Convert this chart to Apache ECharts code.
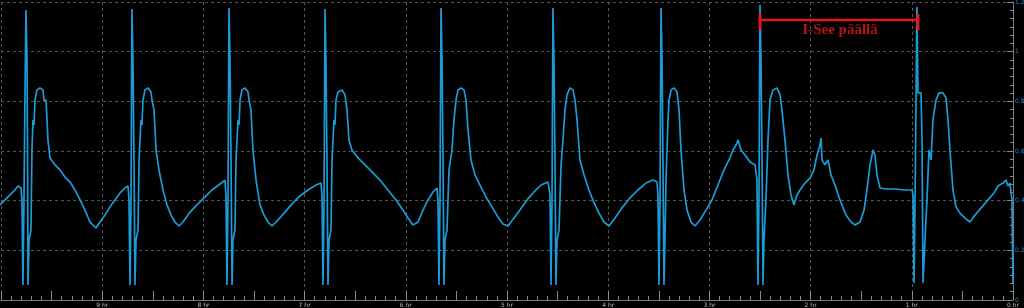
<!DOCTYPE html>
<html>
<head>
<meta charset="utf-8">
<script src="https://cdn.jsdelivr.net/npm/echarts@6/dist/echarts.min.js"></script>
<style>
html,body{margin:0;padding:0;background:#000;}
#chart{width:1024px;height:308px;}
</style>
</head>
<body>
<div id="chart"></div>
<script>
// Time (hr, counted down to 0 at the right edge) and signal value
const timeHr = [
10.010,9.961,9.911,9.862,9.832,9.802,
9.793,9.783,9.773,9.763,9.753,9.743,9.738,9.733,9.723,9.704,9.694,9.684,9.674,9.664,9.644,9.615,9.585,9.575,9.555,9.536,9.516,9.466,9.417,9.368,9.318,9.269,9.219,9.170,9.121,9.091,9.061,9.022,8.972,8.923,8.874,8.824,8.775,8.745,
8.735,8.725,8.715,8.706,8.696,8.686,8.676,8.666,8.646,8.636,8.617,8.607,8.597,8.577,8.547,8.518,8.508,8.488,8.468,8.439,8.399,8.360,8.320,8.281,8.241,8.202,8.132,8.063,7.984,7.915,7.836,7.787,
7.777,7.767,7.757,7.747,7.737,7.727,7.717,7.708,7.688,7.678,7.658,7.648,7.638,7.619,7.589,7.559,7.549,7.530,7.510,7.480,7.441,7.401,7.362,7.322,7.263,7.194,7.115,7.046,6.966,6.887,6.838,
6.828,6.818,6.808,6.798,6.789,6.779,6.769,6.759,6.739,6.729,6.710,6.700,6.690,6.670,6.630,6.601,6.581,6.561,6.532,6.472,6.403,6.334,6.255,6.176,6.097,6.028,5.978,5.929,5.879,5.830,5.781,5.731,5.692,
5.682,5.672,5.662,5.652,5.642,5.632,5.623,5.613,5.593,5.573,5.544,5.524,5.504,5.484,5.455,5.425,5.405,5.385,5.356,5.316,5.267,5.208,5.148,5.089,5.040,4.990,4.931,4.872,4.802,4.733,4.664,4.595,
4.575,4.565,4.555,4.546,4.536,4.526,4.516,4.506,4.486,4.466,4.447,4.427,4.407,4.378,4.348,4.328,4.308,4.279,4.239,4.190,4.140,4.091,4.042,3.992,3.933,3.864,3.785,3.706,3.627,3.557,3.518,
3.508,3.498,3.488,3.478,3.468,3.459,3.449,3.439,3.429,3.409,3.399,3.379,3.350,3.320,3.300,3.281,3.251,3.221,3.182,3.142,3.093,3.034,2.974,2.915,2.856,2.806,2.767,2.737,2.717,2.688,2.648,2.599,2.549,
2.530,2.520,2.510,2.500,2.490,2.480,2.470,2.461,2.441,2.421,2.401,2.372,2.332,2.302,2.283,2.253,2.223,2.194,2.164,2.134,2.105,2.055,2.006,1.966,1.937,1.907,1.897,1.887,1.858,1.828,1.798,1.759,1.710,1.650,1.601,1.561,1.512,1.472,1.443,1.413,1.383,1.364,1.344,1.314,1.255,1.166,1.067,0.998,
0.988,0.978,0.968,0.949,0.939,0.909,0.899,0.889,0.870,0.850,0.830,0.810,0.791,0.761,0.731,0.692,0.662,0.642,0.623,0.593,0.563,0.524,0.474,0.425,0.376,0.306,0.247,0.188,0.148,0.099,0.069,0.049,0.030,0.010,0.000
];
const signal = [
0.383,0.403,0.423,0.443,0.459,0.451,
0.403,0.060,0.403,0.826,1.168,0.967,0.604,0.060,0.242,0.282,0.604,0.725,0.705,0.805,0.846,0.854,0.846,0.805,0.805,0.644,0.572,0.544,0.524,0.495,0.475,0.443,0.403,0.362,0.314,0.302,0.290,0.314,0.342,0.375,0.403,0.431,0.451,0.459,
0.403,0.060,0.403,1.172,0.967,0.564,0.060,0.242,0.282,0.564,0.725,0.705,0.805,0.846,0.854,0.838,0.805,0.765,0.604,0.524,0.443,0.383,0.342,0.314,0.298,0.314,0.354,0.383,0.415,0.443,0.467,0.483,
0.423,0.060,0.403,1.176,0.967,0.564,0.060,0.242,0.282,0.564,0.725,0.705,0.805,0.846,0.854,0.838,0.805,0.765,0.604,0.483,0.383,0.342,0.314,0.298,0.322,0.354,0.391,0.419,0.443,0.463,0.471,
0.423,0.060,0.403,1.172,0.967,0.564,0.060,0.242,0.282,0.564,0.725,0.705,0.805,0.838,0.846,0.826,0.765,0.644,0.604,0.572,0.544,0.516,0.483,0.443,0.403,0.362,0.330,0.302,0.314,0.362,0.403,0.435,0.451,
0.403,0.060,0.403,1.176,0.967,0.564,0.060,0.242,0.282,0.524,0.604,0.725,0.805,0.846,0.854,0.846,0.805,0.685,0.564,0.503,0.463,0.415,0.375,0.334,0.306,0.298,0.330,0.362,0.403,0.435,0.463,0.475,
0.423,0.060,0.403,1.176,0.967,0.564,0.060,0.242,0.282,0.544,0.644,0.765,0.826,0.854,0.846,0.805,0.725,0.564,0.503,0.443,0.391,0.350,0.314,0.298,0.330,0.371,0.411,0.443,0.471,0.483,0.475,
0.423,0.060,0.403,1.176,0.967,0.564,0.060,0.242,0.483,0.725,0.805,0.846,0.854,0.838,0.765,0.604,0.443,0.362,0.314,0.298,0.322,0.362,0.403,0.463,0.524,0.564,0.604,0.624,0.644,0.604,0.584,0.556,0.544,
0.483,0.060,0.403,1.188,0.967,0.564,0.060,0.242,0.403,0.644,0.805,0.846,0.854,0.826,0.765,0.644,0.503,0.423,0.383,0.423,0.443,0.471,0.491,0.524,0.584,0.624,0.652,0.564,0.544,0.564,0.503,0.463,0.403,0.342,0.314,0.302,0.314,0.362,0.443,0.544,0.604,0.584,0.503,0.451,0.447,0.447,0.443,0.443,
0.423,0.068,0.403,1.180,0.834,0.834,0.644,0.068,0.242,0.403,0.604,0.564,0.725,0.805,0.834,0.834,0.814,0.725,0.604,0.443,0.375,0.350,0.330,0.314,0.342,0.375,0.403,0.431,0.459,0.471,0.483,0.459,0.471,0.403,0.068
];
// Annotation: span where I-See is on (hr) and its level
const noteLabel = 'I-See päällä';
const noteStart = [2.500];
const noteEnd = [0.939];
const noteLevel = [1.128];
const noteTickLow = [1.087];
const noteTickHigh = [1.152];
const noteTextPos = [1.709, 1.088];

const xTicks = [0,1,2,3,4,5,6,7,8,9,10];
const yTicks = [0,0.2,0.4,0.6,0.8,1,1.2];

const traceData = timeHr.map((t, i) => [t, signal[i]]);

const chart = echarts.init(document.getElementById('chart'), null, {renderer: 'canvas'});
const red = '#e5141b';
const xBase = {
  type: 'value', min: xTicks[0], max: xTicks[xTicks.length-1], inverse: true, position: 'bottom', gridIndex: 0
};
chart.setOption({
  backgroundColor: '#000',
  animation: false,
  grid: {left: 1, right: 11, top: 2, bottom: 8, containLabel: false, outerBoundsMode: 'none'},
  xAxis: [
    Object.assign({}, xBase, {
      interval: 1,
      axisLine: {show: true, lineStyle: {color: '#7a7a7a', width: 1}},
      axisTick: {show: true, inside: true, length: 5, lineStyle: {color: '#8a8a8a'}},
      minorTick: {show: true, splitNumber: 10, length: 4, lineStyle: {color: '#8a8a8a'}},
      axisLabel: {show: true, fontSize: 6, color: '#bbbbbb', margin: 2, showMinLabel: true, showMaxLabel: false,
        fontFamily: 'DejaVu Sans', formatter: v => v + ' hr'},
      splitLine: {show: true, lineStyle: {color: '#555', type: [3, 3], width: 1}}
    }),
    Object.assign({}, xBase, {
      interval: 0.5,
      axisLine: {show: false},
      axisTick: {show: true, inside: true, length: 9, lineStyle: {color: '#8a8a8a'}},
      axisLabel: {show: false},
      splitLine: {show: false}
    })
  ],
  yAxis: {
    type: 'value', min: yTicks[0], max: yTicks[yTicks.length-1], interval: 0.2, position: 'right',
    axisLine: {show: true, lineStyle: {color: '#7a7a7a', width: 1}},
    axisTick: {show: true, inside: true, length: 6, lineStyle: {color: '#8a8a8a'}},
    minorTick: {show: true, splitNumber: 6, length: 3, lineStyle: {color: '#8a8a8a'}},
    axisLabel: {show: true, fontSize: 6, color: '#1a8fc8', margin: 2, fontFamily: 'DejaVu Sans'},
    splitLine: {show: true, lineStyle: {color: '#555', type: [3, 3], width: 1}}
  },
  series: [
    {
      type: 'line', xAxisIndex: 0, data: traceData, showSymbol: false, symbol: 'none',
      lineStyle: {color: '#1c9bd6', width: 1.7}, z: 3
    },
    {
      type: 'line', xAxisIndex: 0, showSymbol: false, symbol: 'none',
      data: [[noteStart[0], noteLevel[0]], [noteEnd[0], noteLevel[0]]],
      lineStyle: {color: red, width: 2.5}, z: 5
    },
    {
      type: 'line', xAxisIndex: 0, showSymbol: false, symbol: 'none',
      data: [[noteStart[0], noteTickLow[0]], [noteStart[0], noteTickHigh[0]]],
      lineStyle: {color: red, width: 3}, z: 5
    },
    {
      type: 'line', xAxisIndex: 0, showSymbol: false, symbol: 'none',
      data: [[noteEnd[0], noteTickLow[0]], [noteEnd[0], noteTickHigh[0]]],
      lineStyle: {color: red, width: 3}, z: 5
    },
    {
      type: 'scatter', xAxisIndex: 0, data: [noteTextPos], symbolSize: 1,
      itemStyle: {color: 'rgba(0,0,0,0)'}, z: 6,
      label: {show: true, position: 'inside', formatter: noteLabel, color: red,
        fontSize: 15, fontWeight: 'bold', fontFamily: 'Liberation Serif'}
    }
  ]
});
</script>
</body>
</html>
